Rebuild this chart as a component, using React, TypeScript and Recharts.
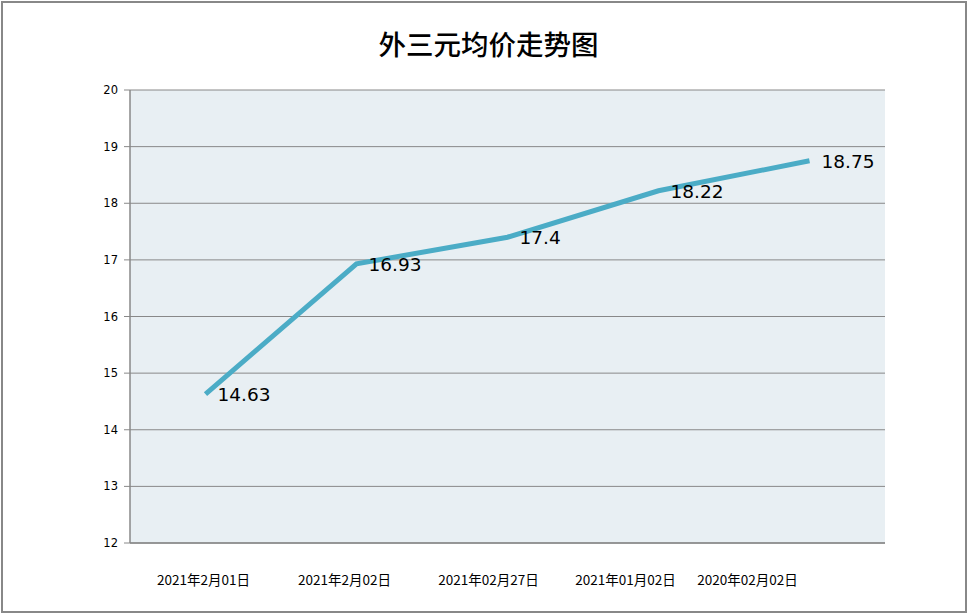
import React from "react";
import { LineChart, Line, XAxis, YAxis, CartesianGrid, LabelList } from "recharts";

const categories = ["2021年2月01日", "2021年2月02日", "2021年02月27日", "2021年01月02日", "2020年02月02日"];
const prices = [14.63, 16.93, 17.4, 18.22, 18.75];
const yTicks = [12, 13, 14, 15, 16, 17, 18, 19, 20];
const labelShift = [-2, -12, -19, -33, -62];

const data = categories.map((c, i) => ({ name: c, price: prices[i] }));

const XTick = (props: any) => {
  const { x, y, payload, index } = props;
  return (
    <text
      x={x + (labelShift[index] ?? 0)}
      y={y}
      dy={34}
      textAnchor="middle"
      fill="#000"
      fontSize={13.5}
      fontFamily="'Noto Sans CJK SC', sans-serif"
    >
      {payload.value}
    </text>
  );
};

const PointLabel = (props: any) => {
  const { x, y, value } = props;
  return (
    <text
      x={x + 12}
      y={y}
      dy={7}
      textAnchor="start"
      fill="#000"
      fontSize={18.5}
      fontFamily="'DejaVu Sans', sans-serif"
    >
      {value}
    </text>
  );
};

export default function App() {
  return (
    <div style={{ position: "fixed", left: 0, top: 0, width: 968, height: 614, background: "#fff" }}>
      <div
        style={{
          position: "absolute",
          left: 1,
          top: 1,
          width: 966,
          height: 612,
          border: "2px solid #888",
          boxSizing: "border-box",
        }}
      />
      <div
        style={{
          position: "absolute",
          left: 0,
          top: 24,
          width: 977,
          textAlign: "center",
          fontSize: 27.5,
          fontFamily: "'Noto Sans CJK SC', sans-serif",
          fontWeight: 500,
          color: "#000",
          lineHeight: "38px",
        }}
      >
        外三元均价走势图
      </div>
      <div style={{ position: "absolute", left: 0, top: 0 }}>
        <LineChart
          width={968}
          height={614}
          data={data}
          margin={{ top: 90, right: 83, bottom: 31, left: 70 }}
        >
          <CartesianGrid vertical={false} stroke="#888" fill="#E8EFF3" fillOpacity={1} />
          <XAxis
            dataKey="name"
            scale="band"
            axisLine={{ stroke: "#888", strokeWidth: 1.5 }}
            tickLine={false}
            height={40}
            tick={<XTick />}
            interval={0}
          />
          <YAxis
            domain={[12, 20]}
            ticks={yTicks}
            width={60}
            axisLine={{ stroke: "#888", strokeWidth: 1.5 }}
            tickLine={{ stroke: "#888" }}
            tickSize={6}
            tickMargin={6}
            tick={{ fill: "#000", fontSize: 11.5, fontFamily: "'DejaVu Sans', sans-serif" }}
          />
          <Line
            type="linear"
            dataKey="price"
            stroke="#4BACC6"
            strokeWidth={5}
            dot={false}
            isAnimationActive={false}
          >
            <LabelList dataKey="price" content={<PointLabel />} />
          </Line>
        </LineChart>
      </div>
    </div>
  );
}
